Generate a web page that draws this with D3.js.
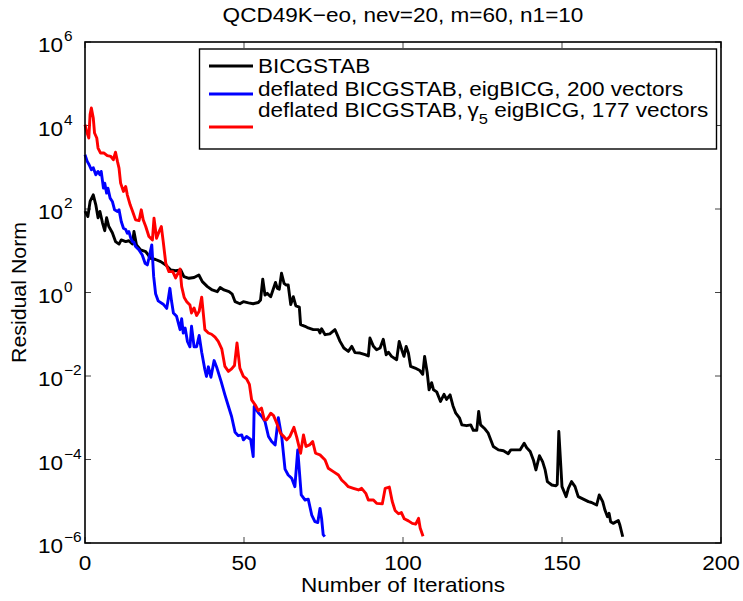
<!DOCTYPE html>
<html>
<head>
<meta charset="utf-8">
<script src="https://cdn.jsdelivr.net/npm/d3@7"></script>
<style>
	body { margin: 0; background: #fff; }
	svg text { font-family: "Liberation Sans", Arial, Helvetica, sans-serif; fill: #000; }
</style>
</head>
<body>
<div id="chart"></div>
<script>
// Chart texts and ticks
var chartTitle = "QCD49K\u2212eo, nev=20, m=60, n1=10";
var xLabel = "Number of Iterations";
var yLabel = "Residual Norm";
var xTickValues = [0, 50, 100, 150, 200];
var yTickExponents = [-6, -4, -2, 0, 2, 4, 6];
var seriesNames = [
	"BICGSTAB",
	"deflated BICGSTAB, eigBICG, 200 vectors",
	"deflated BICGSTAB,\u2009\u03b3_5 eigBICG, 177 vectors"
];
var seriesColors = ["#000000", "#0000ff", "#ff0000"];

// BICGSTAB: iteration and log10 of the residual norm
var bicgIter = [0, 0.9, 1.6, 2.6, 3.4, 4.1, 4.7, 5.5, 6.2, 6.8, 7.5, 8.6, 9.6, 10.7, 11.4, 12.8, 13.8, 14.9, 15.4, 16.2,
	17.5, 19.1, 20.6, 22.2, 23.8, 25.4, 27, 28.5, 30.1, 31.1, 32.7, 34.3, 35.8, 36.9, 38.5, 40, 41.6, 42.5, 43.7, 45.3,
	46.3, 47.2, 48.7, 49.8, 51.4, 52.9, 54.5, 55.2, 55.9, 56.6, 57.3, 58.4, 59.9, 60.5, 61.1, 61.8, 62.6, 63.2, 63.9, 64.7,
	65.5, 66.3, 67.4, 67.8, 69.2, 70.2, 71.8, 73.4, 73.9, 74.4, 75.5, 77, 78.6, 79.3, 80.2, 81.4, 82.8, 83.9, 84.9, 86.5,
	88.1, 89.1, 89.6, 90.7, 91.7, 92.8, 93.8, 94.7, 95.4, 96.4, 98, 98.8, 99.6, 100.3, 101, 101.7, 102.4, 103.8, 105.3, 106.2,
	106.8, 107.6, 108.2, 109, 109.6, 110.6, 111.8, 112.9, 113.7, 114.8, 115.7, 116.6, 117.8, 118.5, 120, 121.3, 122.1, 123.2, 123.8, 124.4,
	125.8, 126.8, 128.4, 130, 131.6, 133.1, 133.9, 135.2, 136.8, 138.1, 138.9, 140, 141, 141.8, 142.9, 143.9, 144.7, 145.4, 146.8, 148.1,
	148.5, 149, 150, 151.3, 152, 153, 154.1, 155.1, 156.7, 158.3, 159.3, 160.9, 161.7, 162.8, 163.5, 164.3, 164.8, 165.3, 166.1, 167.7,
	168.2, 169.1];
var bicgLog = [1.95, 1.82, 2.18, 2.34, 2.10, 1.79, 1.94, 1.67, 1.48, 1.79, 1.58, 1.43, 1.22, 1.16, 1.26, 1.22, 1.24, 1.16, 1.46, 1.14,
	1.02, 0.98, 0.82, 0.79, 0.74, 0.66, 0.54, 0.52, 0.54, 0.38, 0.34, 0.36, 0.42, 0.26, 0.14, 0.06, 0.02, 0.12, 0.06, 0.02,
	-0.04, -0.22, -0.27, -0.22, -0.25, -0.27, -0.24, -0.18, 0.32, -0.06, -0.02, -0.10, 0.24, 0.10, 0.08, 0.46, 0.22, 0.18, 0.18, -0.29,
	-0.10, -0.32, -0.35, -0.77, -0.81, -0.85, -0.89, -0.89, -0.97, -0.87, -1.01, -0.99, -0.89, -1.01, -1.17, -1.33, -1.41, -1.29, -1.44, -1.45,
	-1.49, -1.52, -1.09, -1.29, -1.37, -1.33, -1.12, -1.49, -1.43, -1.53, -1.61, -1.17, -1.37, -1.53, -1.29, -1.45, -1.77, -1.81, -1.87, -1.96,
	-1.53, -1.91, -2.33, -2.16, -2.33, -2.38, -2.61, -2.44, -2.56, -2.45, -2.71, -2.89, -3.01, -3.17, -3.19, -3.17, -3.30, -3.30, -2.85, -3.17,
	-3.27, -3.37, -3.69, -3.77, -3.79, -3.86, -3.77, -3.77, -3.77, -3.61, -3.72, -3.81, -4.01, -4.25, -3.91, -4.05, -4.25, -4.53, -4.61, -4.63,
	-4.60, -3.33, -4.65, -4.89, -4.69, -4.53, -4.65, -4.89, -4.95, -5.01, -5.03, -5.09, -4.85, -5.01, -5.21, -5.37, -5.29, -5.49, -5.53, -5.46,
	-5.57, -5.85];

// deflated BICGSTAB, eigBICG, 200 vectors
var eigIter = [0, 0.7, 1.3, 2, 2.6, 3.4, 4.1, 4.7, 5.1, 5.8, 6.2, 6.8, 7.2, 7.9, 8.6, 9.3, 10.2, 10.7, 11.4, 12.1,
	12.8, 13.3, 13.8, 14.4, 14.9, 15.4, 15.9, 17, 18, 18.9, 19.6, 20.1, 21, 21.6, 22.2, 23, 24.6, 25.7, 26.2, 26.7,
	27.2, 27.8, 28.8, 29.9, 30.4, 30.9, 31.5, 32.2, 33, 33.5, 34.3, 35.1, 35.9, 36.7, 37.7, 38.2, 38.8, 39.6, 40.6, 41.5,
	42.8, 44, 45, 46.1, 47.2, 48.2, 49.3, 49.8, 50.8, 52.1, 52.9, 53.2, 54.5, 55.6, 56.6, 57.7, 58.7, 59.8, 60.8, 61.9,
	62.9, 63.9, 65, 66, 66.9, 68, 69.2, 70.2, 71.3, 72.3, 73.2, 73.9, 74.4, 74.9, 75.4];
var eigLog = [3.30, 3.14, 3.06, 2.94, 2.99, 2.82, 2.90, 2.82, 2.90, 2.50, 2.62, 2.38, 2.50, 2.26, 2.18, 1.98, 1.94, 1.98, 1.70, 1.54,
	1.51, 1.42, 1.46, 1.30, 1.22, 1.20, 1.10, 1.02, 0.90, 0.70, 0.66, 0.82, 1.14, 0.38, -0.03, -0.20, -0.28, -0.38, -0.15, 0.10,
	-0.20, -0.49, -0.57, -0.89, -0.63, -0.97, -0.85, -1.17, -1.30, -0.81, -1.30, -1.30, -1.03, -1.43, -1.85, -2.01, -1.78, -2.03, -1.63, -1.81,
	-2.13, -2.45, -2.70, -2.97, -3.35, -3.43, -3.41, -3.53, -3.45, -3.52, -3.93, -2.73, -2.88, -2.97, -3.09, -3.45, -3.57, -3.65, -3.00, -3.48,
	-4.23, -4.37, -4.45, -4.65, -3.77, -4.85, -4.97, -4.95, -5.33, -5.49, -5.51, -5.17, -5.41, -5.80, -5.85];

// deflated BICGSTAB, gamma5 eigBICG, 177 vectors
var g5Iter = [0, 0.5, 1.2, 1.6, 2, 2.6, 3, 3.7, 4.1, 4.9, 6, 7, 8.1, 8.9, 9.6, 10.2, 10.7, 11.2, 12.1, 12.8,
	13.3, 14.2, 14.9, 15.9, 17, 17.7, 18.3, 19.1, 20.1, 21.2, 21.7, 22.5, 23.3, 24, 24.6, 25.4, 26.4, 27.6, 28.5, 29.9,
	30.4, 31.2, 32, 33, 33.5, 34.3, 35.1, 35.9, 36.7, 37.7, 38.8, 39.8, 40.9, 41.9, 43, 44, 45.1, 46.1, 47, 47.8,
	48.7, 49.8, 50.8, 51.7, 52.4, 53.5, 54.5, 55.5, 56.4, 57.1, 58.4, 59.3, 60.3, 61.5, 62.5, 63.4, 64.4, 65.7, 66.6, 67.8,
	68.7, 69.5, 70.6, 71.6, 72.5, 73.9, 75.5, 76.5, 78.1, 79.7, 80.7, 81.8, 82.8, 84.4, 86, 87, 88.3, 89.1, 90.7, 91.7,
	93.5, 94.4, 95.7, 96.6, 97.5, 98.6, 99.5, 100.4, 101.7, 102.9, 104, 104.9, 105.4, 106.3];
var g5Log = [4.02, 3.86, 3.70, 4.26, 4.42, 4.18, 3.82, 3.70, 3.46, 3.34, 3.34, 3.28, 3.26, 3.18, 3.36, 3.14, 2.98, 2.62, 2.42, 2.54,
	2.34, 2.10, 1.96, 1.74, 1.72, 1.98, 1.74, 1.58, 1.34, 1.26, 1.78, 1.30, 1.46, 1.58, 1.22, 0.70, 0.50, 0.50, 0.35, 0.56,
	0.14, -0.12, -0.22, -0.30, -0.49, -0.37, -0.55, -0.45, -0.11, -0.89, -0.97, -1.00, -1.07, -1.17, -1.35, -1.77, -1.89, -1.83, -1.75, -1.21,
	-1.81, -2.01, -2.07, -2.20, -2.57, -2.69, -2.83, -2.77, -3.05, -3.05, -2.89, -2.95, -3.13, -3.37, -3.45, -3.53, -3.45, -3.23, -3.47, -3.85,
	-3.41, -3.69, -3.65, -3.57, -3.85, -3.89, -4.01, -4.21, -4.29, -4.37, -4.49, -4.57, -4.65, -4.69, -4.73, -4.69, -4.81, -4.97, -4.97, -5.05,
	-5.06, -4.69, -4.66, -5.00, -5.22, -5.30, -5.27, -5.42, -5.47, -5.53, -5.55, -5.41, -5.64, -5.84];

function convergenceChart() {
	var chart = {},
			selector = "#chart",
			width = 743,
			height = 601,
			margin = {top: 42, right: 22, bottom: 58, left: 85},
			fontSize = 20.5,
			stretch = 1.1,
			tickLength = 6,
			lineWidth = 2.9,
			xScale = d3.scaleLinear(),
			yScale = d3.scaleLog();

	var line = d3.line()
			.x(function(d) { return xScale(d.iter); })
			.y(function(d) { return yScale(d.res); });

	// place a text element with a slight horizontal stretch, like the original export
	function placeText(sel, x, y, rotate) {
		return sel.attr("transform", "translate(" + x + "," + y + ")" + (rotate ? " rotate(" + rotate + ")" : "") + " scale(" + stretch + ",1)");
	}

	function makeSeries(iters, logs) {
		return iters.map(function(it, i) { return {iter: it, res: Math.pow(10, logs[i])}; });
	}

	chart.render = function() {
		var w = width - margin.left - margin.right;
		var h = height - margin.top - margin.bottom;

		var series = [
			{name: seriesNames[0], color: seriesColors[0], values: makeSeries(bicgIter, bicgLog)},
			{name: seriesNames[1], color: seriesColors[1], values: makeSeries(eigIter, eigLog)},
			{name: seriesNames[2], color: seriesColors[2], values: makeSeries(g5Iter, g5Log)}
		];

		xScale.domain([0, 200]).range([0, w]);
		yScale.domain([1e-6, 1e6]).range([h, 0]);

		var svg = d3.select(selector).append("svg")
				.attr("width", width)
				.attr("height", height)
				.style("font-size", fontSize + "px");

		// Title
		placeText(svg.append("text"), margin.left + w / 2, 22)
				.attr("text-anchor", "middle")
				.text(chartTitle);

		var g = svg.append("g").attr("transform", "translate(" + margin.left + "," + margin.top + ")");

		// Ticks (inside, on all four sides)
		var ticks = g.append("g").attr("class", "ticks")
				.attr("stroke", "#444")
				.attr("stroke-width", 1);
		xTickValues.forEach(function(v) {
			ticks.append("line").attr("x1", xScale(v)).attr("x2", xScale(v)).attr("y1", h).attr("y2", h - tickLength);
			ticks.append("line").attr("x1", xScale(v)).attr("x2", xScale(v)).attr("y1", 0).attr("y2", tickLength);
		});
		yTickExponents.forEach(function(e) {
			var y = yScale(Math.pow(10, e));
			ticks.append("line").attr("x1", 0).attr("x2", tickLength).attr("y1", y).attr("y2", y);
			ticks.append("line").attr("x1", w).attr("x2", w - tickLength).attr("y1", y).attr("y2", y);
		});

		// X tick labels
		xTickValues.forEach(function(v) {
			placeText(g.append("text"), xScale(v), h + 27)
					.attr("text-anchor", "middle")
					.text(v);
		});

		// Y tick labels: 10 with superscript exponent
		yTickExponents.forEach(function(e) {
			var y = yScale(Math.pow(10, e));
			placeText(g.append("text"), -22, y + 10)
					.attr("text-anchor", "end")
					.text("10");
			placeText(g.append("text"), -21, y - 1)
					.style("font-size", "14px")
					.text(String(e).replace("-", "\u2212"));
		});

		// Axis labels
		placeText(svg.append("text"), margin.left + w / 2, 592)
				.attr("text-anchor", "middle")
				.text(xLabel);
		svg.append("text")
				.attr("transform", "translate(26," + (margin.top + h / 2) + ") rotate(-90) scale(1.04,1)")
				.attr("text-anchor", "middle")
				.text(yLabel);

		// Lines
		g.append("g").attr("class", "chart-body")
			.selectAll(".line")
			.data(series)
			.enter().append("path")
				.attr("class", "line")
				.attr("d", function(d) { return line(d.values); })
				.style("fill", "none")
				.style("stroke", function(d) { return d.color; })
				.style("stroke-width", lineWidth)
				.style("stroke-linejoin", "round");

		// Axis box
		g.append("rect")
				.attr("width", w)
				.attr("height", h)
				.style("fill", "none")
				.style("stroke", "#000")
				.style("stroke-width", 1.6);

		// Legend
		var legend = svg.append("g").attr("class", "legend");
		legend.append("rect")
				.attr("x", 199.5)
				.attr("y", 49)
				.attr("width", 517)
				.attr("height", 100)
				.style("fill", "#fff")
				.style("stroke", "#000")
				.style("stroke-width", 1.4);

		var lineY = [66, 94, 127];
		var textY = [73, 95.5, 116.5];
		series.forEach(function(s, i) {
			legend.append("line")
					.attr("x1", 209).attr("x2", 253)
					.attr("y1", lineY[i]).attr("y2", lineY[i])
					.style("stroke", s.color)
					.style("stroke-width", lineWidth);
			var t = placeText(legend.append("text"), 258, textY[i]);
			var parts = s.name.split(/_(\w)/);
			parts.forEach(function(p, k) {
				if (k % 2 === 1) {
					t.append("tspan").attr("dy", 7).style("font-size", "15px").text(p);
				} else if (k > 0) {
					t.append("tspan").attr("dy", -7).text(p);
				} else {
					t.append("tspan").text(p);
				}
			});
		});
	};

	return chart;
}

convergenceChart().render();
</script>
</body>
</html>
